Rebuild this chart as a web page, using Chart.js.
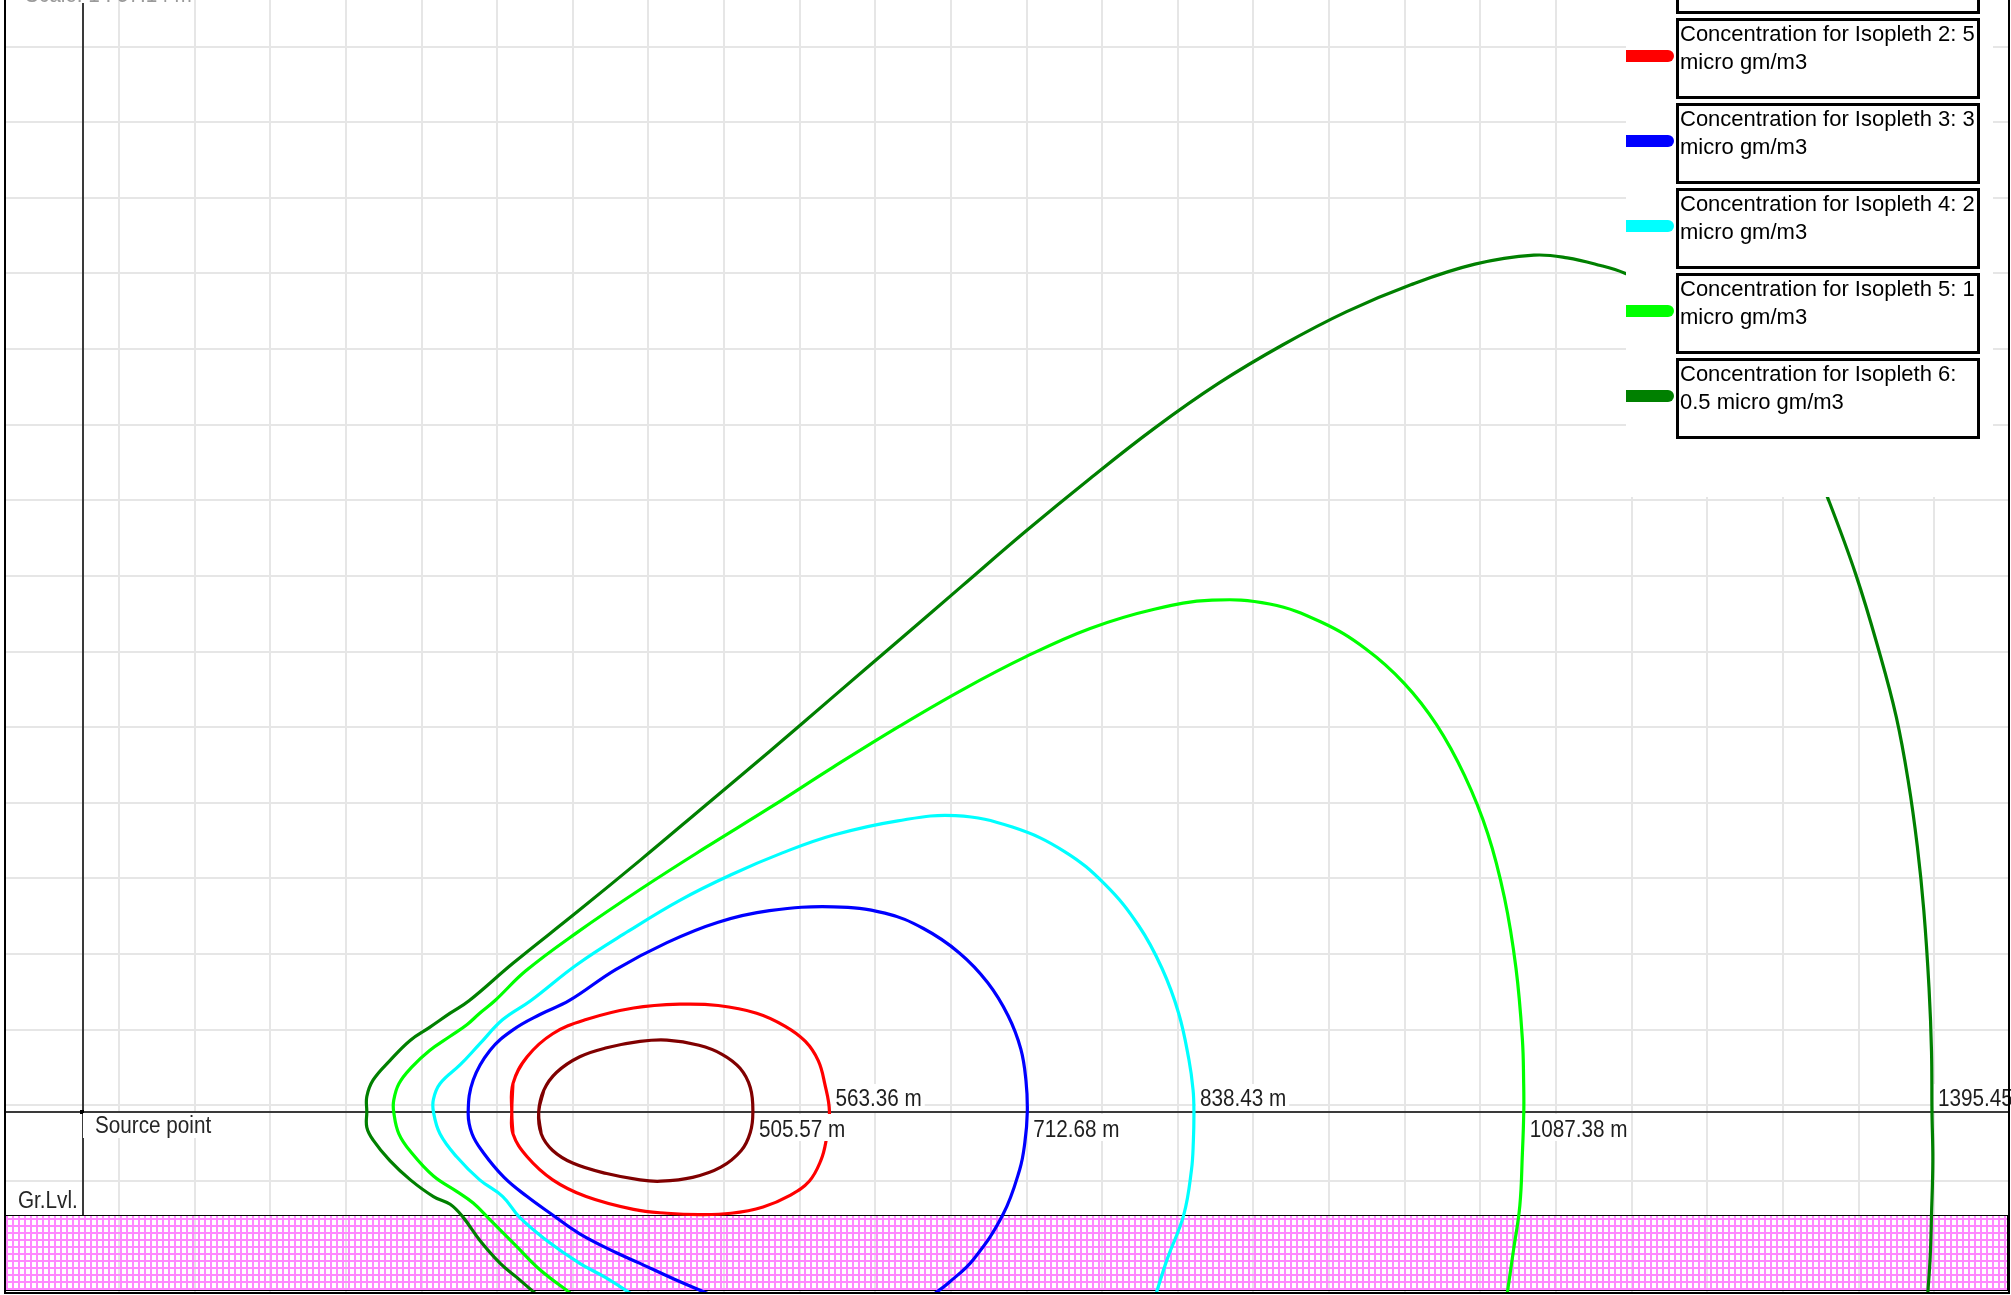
<!DOCTYPE html>
<html>
<head>
<meta charset="utf-8">
<title>Isopleths - vertical section</title>
<script src="https://cdn.jsdelivr.net/npm/chart.js@4.4.0/dist/chart.umd.min.js"></script>
<style>
  html, body { margin: 0; padding: 0; background: #fff; }
  #wrap { width: 2011px; height: 1295px; }
</style>
</head>
<body>
<div id="wrap"><canvas id="plume" width="2011" height="1295"></canvas></div>
<script>
// Vertical section of the plume along the wind direction.
// x: downwind distance from the source (m), y: height above ground level (m).
const STACK_HEIGHT = 77.8;

const isoLabels = [
  'Concentration for Isopleth 1: 10 micro gm/m3',
  'Concentration for Isopleth 2: 5 micro gm/m3',
  'Concentration for Isopleth 3: 3 micro gm/m3',
  'Concentration for Isopleth 4: 2 micro gm/m3',
  'Concentration for Isopleth 5: 1 micro gm/m3',
  'Concentration for Isopleth 6: 0.5 micro gm/m3'
];
const isoColors = ['#800000', '#ff0000', '#0000ff', '#00ffff', '#00ff00', '#008000'];

// Downwind distance at which each isopleth crosses the plume axis (m)
const crossDistances = [505.57, 563.36, 712.68, 838.43, 1087.38, 1395.45];

// Isopleth outlines, [distance m, height m]
const iso1Points = [
  [343.9, 77.8], [347.8, 94.2], [357.5, 107.7], [374.9, 119.4], [395.2, 126.2], [420.4, 131.0],
  [440.7, 132.0], [464.9, 128.1], [482.3, 121.3], [495.9, 110.7], [503.6, 96.2],
  [crossDistances[0], STACK_HEIGHT],
  [503.6, 62.3], [496.8, 48.7], [481.4, 36.1], [460.1, 28.4], [435.9, 25.5], [420.4, 26.5],
  [395.2, 31.3], [370.0, 39.0], [354.5, 48.7], [345.8, 61.3], [343.9, 77.8]
];
const iso2Points = [
  [323.6, 77.8], [324.5, 99.1], [335.2, 119.4], [354.5, 136.8], [379.7, 147.5], [415.5, 156.2],
  [450.4, 159.1], [479.4, 158.1], [508.4, 152.3], [529.7, 142.6], [545.2, 131.0], [554.9, 116.5],
  [559.8, 99.1],
  [crossDistances[1], STACK_HEIGHT],
  [560.7, 55.5], [556.8, 41.0], [548.1, 25.5], [533.6, 14.8], [513.3, 6.1], [489.1, 1.3],
  [464.9, 0.3], [440.7, 1.3], [415.5, 4.2], [379.7, 13.9], [354.5, 26.5], [335.2, 43.9],
  [324.5, 61.3], [323.6, 77.8]
];
const iso3Points = [
  [474.6, -60.6], [445.5, -48.1], [420.4, -36.5], [403.0, -28.7], [374.9, -14.2], [352.6, 1.3],
  [335.2, 13.9], [317.8, 28.4], [302.3, 46.8], [293.6, 61.3], [290.7, 77.8], [294.5, 101.9],
  [307.1, 124.2], [324.5, 139.7], [344.9, 151.3], [367.1, 161.9], [402.0, 185.2], [440.7, 205.6],
  [479.4, 221.0], [518.1, 229.7], [566.5, 232.6], [605.2, 227.8], [634.3, 216.2], [661.4, 197.8],
  [682.7, 175.5], [698.2, 150.4], [707.8, 125.2], [711.7, 101.0],
  [crossDistances[2], STACK_HEIGHT],
  [710.8, 54.5], [706.9, 34.2], [694.3, 0.3], [672.0, -33.5], [653.6, -50.9], [641.1, -60.6]
];
const iso4Points = [
  [415.5, -60.6], [394.2, -47.1], [374.9, -36.5], [349.7, -19.0], [329.4, -1.6], [316.8, 13.9],
  [299.4, 26.5], [282.0, 43.9], [269.4, 61.3], [264.5, 77.8], [264.5, 87.5], [269.4, 99.1],
  [284.9, 113.6], [299.4, 129.1], [316.8, 147.5], [338.1, 161.9], [372.9, 189.1], [411.6, 214.2],
  [450.4, 237.5], [489.1, 256.8], [527.8, 273.3], [566.5, 286.8], [615.0, 297.5], [658.5, 301.4],
  [702.0, 292.6], [740.8, 274.3], [771.7, 249.1], [796.9, 218.1], [814.3, 186.2], [826.9, 152.3],
  [834.6, 117.5], [837.8, 94.2],
  [crossDistances[3], STACK_HEIGHT],
  [838.0, 55.5], [836.6, 34.2], [830.8, 0.3], [818.2, -33.5], [809.5, -60.6]
];
const iso5Points = [
  [370.0, -60.6], [344.9, -41.3], [327.4, -23.9], [307.1, -3.5], [294.5, 9.0], [282.0, 17.8],
  [264.5, 29.4], [248.1, 46.8], [238.4, 61.3], [234.5, 77.8], [234.5, 86.5], [238.4, 99.1],
  [248.1, 111.6], [261.6, 124.2], [277.1, 134.9], [289.7, 143.6], [299.4, 152.3], [311.0, 161.9],
  [334.2, 184.3], [373.0, 213.3], [421.3, 246.2], [469.7, 277.2], [518.1, 307.2], [566.5, 338.2],
  [615.0, 368.2], [663.3, 396.2], [711.7, 421.4], [760.1, 442.7], [808.5, 457.2], [852.1, 464.0],
  [895.6, 461.1], [934.4, 447.5], [968.2, 427.2], [997.3, 401.1], [1021.5, 370.1], [1042.8, 331.4],
  [1060.2, 287.8], [1072.8, 239.4], [1081.5, 186.2], [1086.3, 132.9], [1087.3, 99.1],
  [crossDistances[4], STACK_HEIGHT],
  [1086.3, 45.8], [1084.4, 7.1], [1079.6, -26.7], [1074.7, -60.6]
];
const iso6Points = [
  [343.0, -60.6], [327.4, -47.1], [314.9, -36.5], [299.4, -19.0], [286.8, -1.6], [277.1, 8.1],
  [264.5, 13.9], [247.1, 26.5], [231.6, 41.0], [219.0, 56.5], [214.2, 66.2], [214.2, 77.8],
  [214.2, 89.4], [219.0, 101.9], [231.6, 116.5], [247.1, 131.9], [261.6, 141.6], [277.1, 152.3],
  [291.6, 161.9], [324.5, 190.0], [373.0, 228.8], [421.3, 268.4], [469.7, 309.1], [518.1, 349.8],
  [566.5, 391.4], [615.0, 433.0], [663.3, 474.6], [711.7, 516.2], [760.1, 555.9], [808.5, 593.7],
  [856.9, 627.6], [905.3, 656.6], [953.7, 681.8], [1002.1, 702.1], [1050.5, 717.6], [1095.0, 724.4],
  [1120.2, 722.4], [1145.3, 716.6], [1163.7, 710.8], [1195.7, 696.3], [1229.6, 673.1], [1258.6, 644.0],
  [1282.8, 609.2], [1302.1, 576.3], [1316.7, 541.4], [1338.0, 483.3], [1355.3, 426.2], [1368.5, 375.9],
  [1377.7, 326.5], [1384.4, 278.1], [1389.3, 229.7], [1393.2, 171.7], [1395.1, 123.3],
  [crossDistances[5], STACK_HEIGHT],
  [1396.1, 40.9], [1395.1, 0.3], [1394.1, -31.6], [1392.2, -60.6]
];
const isoPoints = [iso1Points, iso2Points, iso3Points, iso4Points, iso5Points, iso6Points];

// Axis extents (m) and background grid spacing (m)
const X_MIN = -58.87, X_MAX = 1453.58;
const Y_MIN = -58.87, Y_MAX = 916.98;
const GRID_X0 = 27.17, GRID_Y0 = 25.66, GRID_STEP = 57.08;

// grid lines start at the first line right of the source / above ground
const gridTicks = (start, step, max) => {
  const ticks = [];
  for (let v = start; v <= max + 1e-6; v += step) ticks.push({ value: v });
  return ticks;
};

// closed outlines get one wrap-around point on each side so the spline stays smooth at the seam
function toSeries(pts) {
  const first = pts[0], last = pts[pts.length - 1];
  const closed = first[0] === last[0] && first[1] === last[1];
  const seq = closed ? [pts[pts.length - 2], ...pts, pts[1]] : pts;
  return seq.map(([px, py]) => ({ x: px, y: py }));
}

const LABEL_FONT = '23px "Liberation Sans", Arial, sans-serif';
const LEGEND_FONT = '22px "Liberation Sans", Arial, sans-serif';
const NARROW = 0.9;

function narrowText(ctx, text, x, y, sx) {
  ctx.save();
  ctx.translate(x, y);
  ctx.scale(sx, 1);
  ctx.fillText(text, 0, 0);
  ctx.restore();
  return ctx.measureText(text).width * sx;
}

function wrapWords(ctx, text, maxWidth) {
  const words = text.split(' ');
  const lines = [];
  let line = '';
  for (const w of words) {
    const t = line ? line + ' ' + w : w;
    if (ctx.measureText(t).width > maxWidth && line) { lines.push(line); line = w; }
    else line = t;
  }
  if (line) lines.push(line);
  return lines;
}

function hatchPattern(ctx) {
  const c = document.createElement('canvas');
  c.width = 6; c.height = 7;
  const p = c.getContext('2d');
  p.fillStyle = '#ff88ff';
  p.fillRect(0, 0, 2, 7);
  p.fillRect(0, 0, 6, 2);
  return ctx.createPattern(c, 'repeat');
}

// Ground band, plume axis and source vertical, drawn under the isopleths
const sectionBackdrop = {
  id: 'sectionBackdrop',
  beforeDatasetsDraw(chart) {
    const { ctx, chartArea: ca, scales: { x, y } } = chart;
    const groundY = Math.round(y.getPixelForValue(0));
    const axisY = Math.round(y.getPixelForValue(STACK_HEIGHT));
    const srcX = Math.round(x.getPixelForValue(0));
    ctx.save();
    ctx.fillStyle = hatchPattern(ctx);
    ctx.fillRect(ca.left, groundY, ca.right - 2 - ca.left, ca.bottom - 3 - groundY);
    ctx.strokeStyle = '#000';
    ctx.lineWidth = 1;
    ctx.strokeRect(ca.left + 0.5, groundY + 0.5, ca.right - 2 - ca.left, ca.bottom - 3 - groundY);

    ctx.strokeStyle = '#3a3a3a';
    ctx.lineWidth = 2;
    ctx.beginPath();
    ctx.moveTo(ca.left, axisY);
    ctx.lineTo(ca.right, axisY);
    ctx.moveTo(srcX, ca.top + 3);
    ctx.lineTo(srcX, groundY);
    ctx.stroke();
    ctx.fillStyle = '#000';
    ctx.fillRect(srcX - 3, axisY - 2, 4, 4);
    ctx.restore();
  }
};

// Distance labels, captions and the key panel, drawn over the isopleths
const sectionOverlay = {
  id: 'sectionOverlay',
  afterDatasetsDraw(chart) {
    const { ctx, chartArea: ca, scales: { x, y } } = chart;
    const groundY = Math.round(y.getPixelForValue(0));
    const axisY = Math.round(y.getPixelForValue(STACK_HEIGHT));
    const srcX = Math.round(x.getPixelForValue(0));
    ctx.save();
    ctx.font = LABEL_FONT;
    ctx.textBaseline = 'alphabetic';

    // distance at which each isopleth crosses the plume axis
    crossDistances.forEach((d, i) => {
      const text = d.toFixed(2) + ' m';
      const w = ctx.measureText(text).width * NARROW;
      const px = x.getPixelForValue(d);
      const below = i % 2 === 0;
      const top = below ? axisY + 2 : axisY - 28;
      ctx.fillStyle = '#fff';
      ctx.fillRect(px + 2, top, w + 7, 27);
      ctx.fillStyle = '#1e1e1e';
      narrowText(ctx, text, px + 6, below ? axisY + 25 : axisY - 6, NARROW);
    });

    // source marker caption
    ctx.fillStyle = '#fff';
    ctx.fillRect(srcX, axisY + 1, 132, 25);
    ctx.fillStyle = '#262626';
    narrowText(ctx, 'Source point', srcX + 12, axisY + 21, NARROW);
    narrowText(ctx, 'Gr.Lvl.', srcX - 65, groundY - 7, NARROW);

    ctx.fillStyle = '#9a9a9a';
    narrowText(ctx, 'Scale: 1 : 57.14 m', 25, 2, NARROW);

    // key panel
    const K = { left: 1626, right: 1993, bottom: 497, swEnd: 1668, boxL: 1677, boxR: 1978,
                top0: -66, pitch: 85, boxH: 78 };
    ctx.fillStyle = '#fff';
    ctx.fillRect(K.left, 0, K.right - K.left, K.bottom);
    ctx.font = LEGEND_FONT;
    chart.data.datasets.forEach((ds, i) => {
      const top = K.top0 + i * K.pitch;
      const sy = top + 37;
      ctx.fillStyle = ds.borderColor;
      ctx.fillRect(K.left, sy - 6, K.swEnd - K.left, 12);
      ctx.beginPath();
      ctx.arc(K.swEnd, sy, 6, -Math.PI / 2, Math.PI / 2);
      ctx.fill();
      ctx.strokeStyle = '#000';
      ctx.lineWidth = 3;
      ctx.strokeRect(K.boxL + 0.5, top + 0.5, K.boxR - K.boxL, K.boxH);
      ctx.fillStyle = '#000';
      const lines = wrapWords(ctx, ds.label, K.boxR - K.boxL - 4);
      lines.forEach((ln, j) => ctx.fillText(ln, K.boxL + 3, top + 22 + j * 27.6));
    });

    // outer frame
    ctx.strokeStyle = '#000';
    ctx.lineWidth = 2;
    ctx.beginPath();
    ctx.moveTo(ca.left, 0);
    ctx.lineTo(ca.left, ca.bottom);
    ctx.lineTo(ca.right, ca.bottom);
    ctx.lineTo(ca.right, 0);
    ctx.stroke();
    ctx.restore();
  }
};

const datasets = isoPoints.map((pts, i) => ({
  label: isoLabels[i],
  data: toSeries(pts),
  borderColor: isoColors[i],
  backgroundColor: isoColors[i],
  showLine: true,
  fill: false,
  borderWidth: 3.2,
  pointRadius: 0,
  tension: 0.4
}));

const hiddenAxis = (min, max, start, horizontal) => ({
  type: 'linear',
  min, max,
  border: { display: false },
  ticks: { display: false },
  grid: { color: '#e6e6e6', lineWidth: 2, drawTicks: false },
  afterBuildTicks: (s) => { s.ticks = gridTicks(start, GRID_STEP, max); },
  afterFit: (s) => { if (horizontal) s.height = 0; else s.width = 0; }
});

new Chart(document.getElementById('plume'), {
  type: 'scatter',
  data: { datasets },
  options: {
    responsive: false,
    animation: false,
    devicePixelRatio: 1,
    layout: { padding: { left: 5, right: 2, top: 0, bottom: 2 } },
    plugins: { legend: { display: false }, tooltip: { enabled: false } },
    scales: {
      x: hiddenAxis(X_MIN, X_MAX, GRID_X0, true),
      y: hiddenAxis(Y_MIN, Y_MAX, GRID_Y0, false)
    }
  },
  plugins: [sectionBackdrop, sectionOverlay]
});
</script>
</body>
</html>
